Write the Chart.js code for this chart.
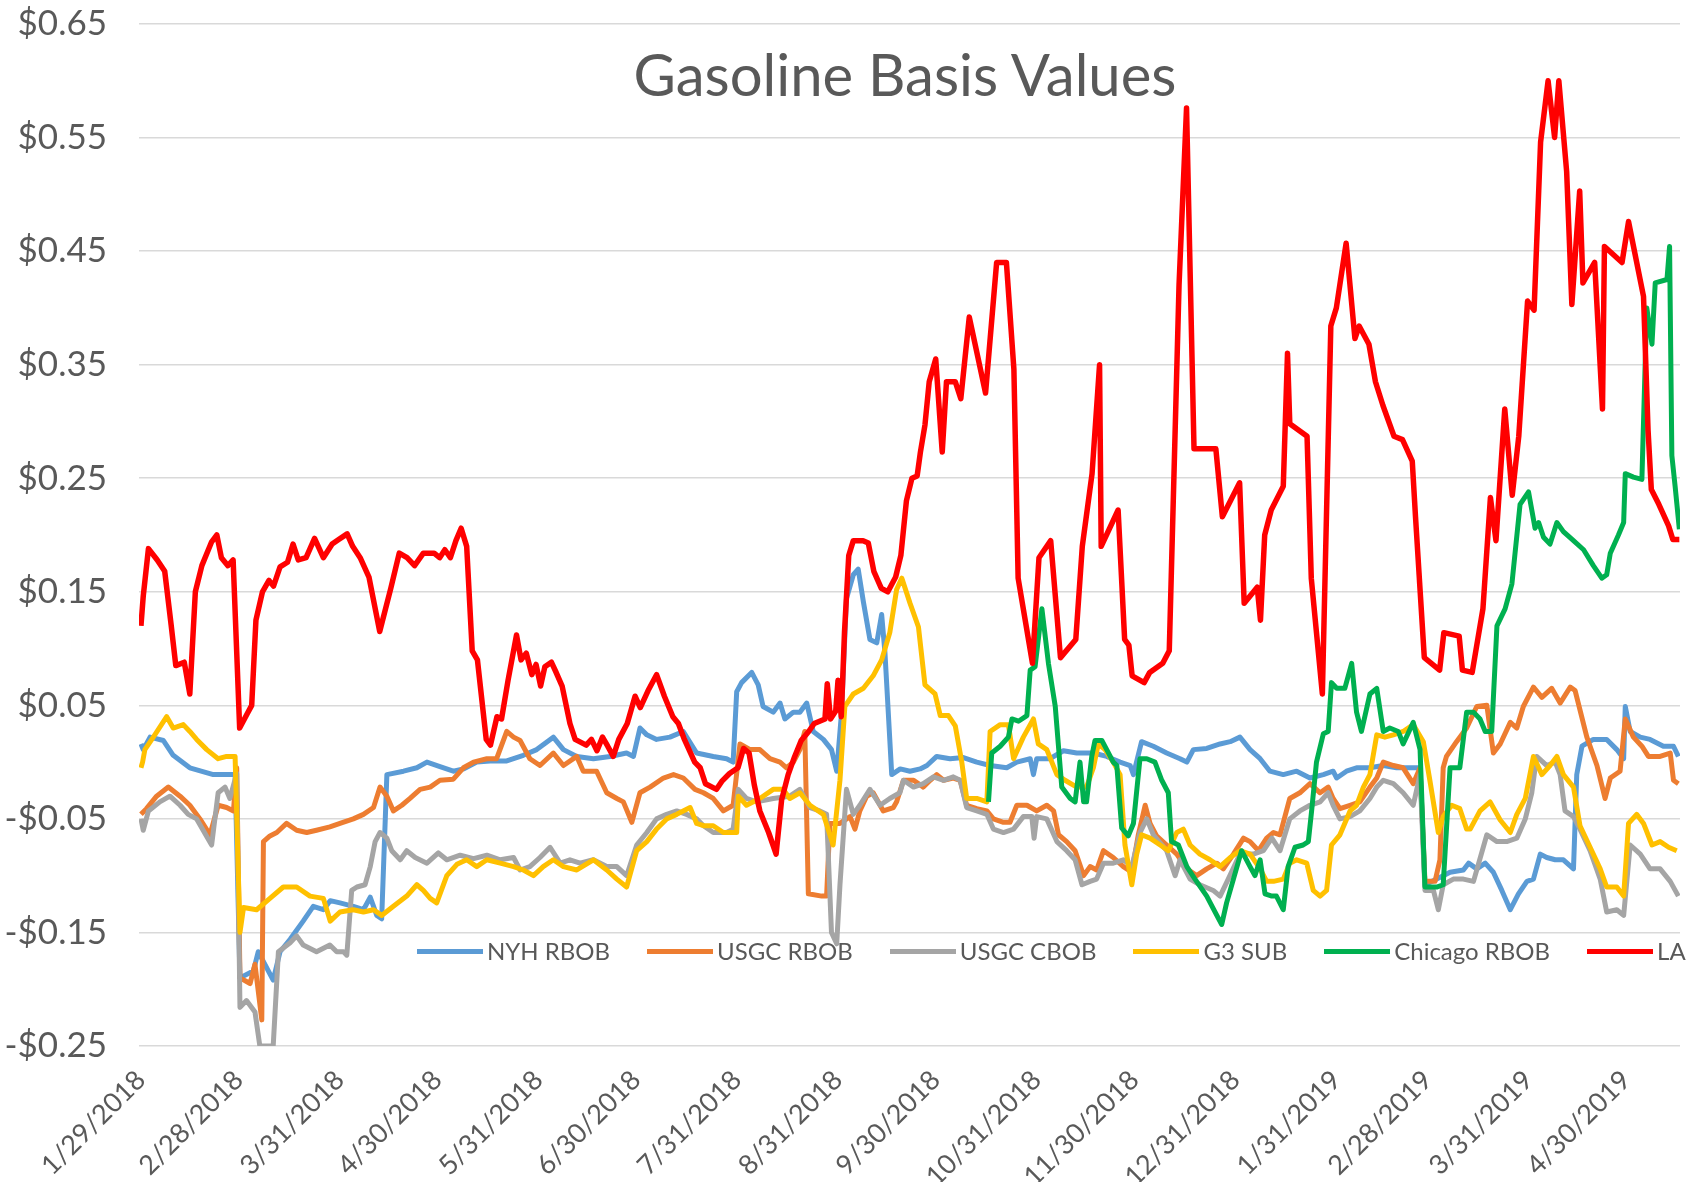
<!DOCTYPE html>
<html lang="en">
<head>
<meta charset="UTF-8" />
<title>Gasoline Basis Values</title>
<script src="https://cdn.jsdelivr.net/npm/chart.js"></script>
<style>
  body {
    margin: 0;
    background: #fff;
    font-family: Lato, "Open Sans", sans-serif;
  }
  #wrap {
    position: relative;
    width: 1703px;
    height: 1182px;
  }
  #title {
    position: absolute;
    left: 405px;
    width: 1000px;
    top: 45px;
    text-align: center;
    font-size: 58px;
    line-height: 58px;
    color: #595959;
  }
  #legend {
    position: absolute;
    left: 417px;
    top: 936px;
    display: flex;
    align-items: center;
    gap: 37px;
    font-size: 24px;
    line-height: 30px;
    color: #595959;
  }
  #legend .item {
    display: flex;
    align-items: center;
  }
  #legend .sw {
    display: inline-block;
    width: 66px;
    height: 5px;
    margin-right: 4px;
  }
</style>
</head>
<body>

<div id="wrap">
  <canvas id="chart"></canvas>
  <div id="title">Gasoline Basis Values</div>
  <div id="legend"></div>
</div>

<script>
  // x values are days since 1/29/2018, y values are $/gal
  const startDate = '1/29/2018';
  const tickDates = ['1/29/2018', '2/28/2018', '3/31/2018', '4/30/2018', '5/31/2018', '6/30/2018',
    '7/31/2018', '8/31/2018', '9/30/2018', '10/31/2018', '11/30/2018', '12/31/2018',
    '1/31/2019', '2/28/2019', '3/31/2019', '4/30/2019'];

  const seriesNames = ['NYH RBOB', 'USGC RBOB', 'USGC CBOB', 'G3 SUB', 'Chicago RBOB', 'LA'];
  const seriesColors = ['#5B9BD5', '#ED7D31', '#A5A5A5', '#FFC000', '#00B050', '#FF0000'];

  const nyhRbob = [[0,0.016],[0.7,0.011],[2.8,0.022],[6.9,0.019],[9.9,0.006],[15,-0.005],[22.2,-0.011],[28.9,-0.011],
    [30.4,-0.19],[34.5,-0.184],[36,-0.167],[40.6,-0.192],[42.7,-0.167],[45.8,-0.156],[49.8,-0.14],[52.9,-0.127],[56,-0.13],
    [58.1,-0.122],[61.1,-0.124],[65.2,-0.127],[68.3,-0.13],[70.4,-0.119],[72.4,-0.135],[73.9,-0.138],[75.5,-0.011],
    [80.6,-0.008],[84.7,-0.005],[87.8,0],[91.8,-0.004],[95.9,-0.008],[99,-0.006],[103.1,0],[107.2,0.001],[112.3,0.001],
    [117.4,0.006],[121.5,0.011],[126.6,0.022],[129.7,0.011],[133.8,0.005],[138.9,0.003],[144,0.005],[149.1,0.008],
    [151.2,0.005],[153.2,0.03],[155.3,0.024],[158.3,0.02],[162.4,0.022],[166.5,0.027],[170.6,0.008],[175.7,0.005],
    [179.8,0.003],[181.8,0],[182.9,0.062],[184.4,0.07],[187.5,0.079],[189.5,0.068],[191,0.049],[194.1,0.044],[196.2,0.052],
    [197.7,0.038],[200.3,0.044],[202.3,0.044],[204.4,0.052],[206.4,0.027],[209.5,0.02],[212,0.011],[213.6,-0.008],
    [215.1,0.044],[216.6,0.144],[218.7,0.165],[220.2,0.17],[221.8,0.141],[223.8,0.108],[225.9,0.105],[227.4,0.13],
    [228.4,0.097],[230.5,-0.011],[233.1,-0.006],[236.1,-0.008],[239.2,-0.006],[241.3,-0.003],[244.3,0.005],[248.4,0.003],
    [252.5,0.004],[256.6,0],[260.7,-0.003],[265.8,-0.005],[268.9,0],[273,0.003],[274,-0.011],[275,0.003],[279.1,0.003],
    [283.2,0.01],[287.3,0.008],[292.4,0.008],[296.5,0.005],[300.6,0],[303.7,-0.003],[304.7,-0.011],[307.2,0.018],
    [310.8,0.014],[314.9,0.008],[319,0.003],[321.1,0],[323.1,0.011],[327.2,0.012],[331.3,0.016],[334.4,0.018],[337.4,0.022],
    [340.5,0.011],[343.6,0.003],[346.6,-0.008],[350.7,-0.011],[354.8,-0.008],[358.9,-0.014],[363,-0.011],[366,-0.008],
    [367.1,-0.014],[370.1,-0.008],[373.2,-0.005],[377.3,-0.005],[381.4,-0.003],[385.5,-0.005],[389.6,-0.005],[392.7,-0.005],
    [394.2,-0.108],[397.8,-0.103],[401.9,-0.097],[406,-0.095],[407.6,-0.089],[410.1,-0.094],[412.7,-0.089],[415.2,-0.097],
    [417.8,-0.113],[420.4,-0.13],[422.9,-0.116],[425.5,-0.105],[427.5,-0.103],[429.6,-0.081],[431.6,-0.084],[434.2,-0.086],
    [436.7,-0.086],[439.8,-0.094],[440.8,-0.011],[442.4,0.014],[445.9,0.02],[450,0.02],[453.1,0.011],[455.2,0.003],
    [455.7,0.049],[457.2,0.027],[460.3,0.022],[463.3,0.02],[467.4,0.014],[470.5,0.014],[472,0.005]];

  const usgcRbob = [[0,-0.046],[1.7,-0.041],[4.8,-0.03],[8.4,-0.022],[12,-0.03],[15,-0.038],[18.1,-0.05],[21.2,-0.064],
    [23.7,-0.038],[26.3,-0.04],[28.4,-0.043],[29.4,-0.005],[30.4,-0.19],[33.5,-0.195],[35,-0.178],[37.1,-0.227],[37.6,-0.07],
    [39.6,-0.065],[41.7,-0.062],[44.7,-0.054],[47.8,-0.06],[50.9,-0.062],[53.9,-0.06],[58,-0.057],[61.1,-0.054],[65.2,-0.05],
    [68.3,-0.046],[71.4,-0.04],[73.4,-0.022],[75.5,-0.03],[77.5,-0.043],[80.1,-0.038],[82.6,-0.032],[85.7,-0.024],
    [88.8,-0.022],[91.8,-0.016],[95.9,-0.015],[99,-0.005],[102.1,0],[106.2,0.003],[109.2,0.003],[112.3,0.027],[114.4,0.022],
    [116.4,0.019],[119.4,0.003],[122.5,-0.003],[126.6,0.008],[129.7,-0.003],[133.8,0.005],[135.8,-0.008],[139.9,-0.008],
    [143,-0.027],[146.1,-0.032],[148.1,-0.035],[150.7,-0.053],[153.2,-0.027],[156.3,-0.022],[160.4,-0.014],[163.5,-0.011],
    [166.5,-0.014],[170.1,-0.024],[172.7,-0.027],[175.7,-0.032],[178.8,-0.043],[181.8,-0.038],[183.9,0.016],[187,0.011],
    [190,0.011],[193.1,0.003],[196.2,0],[198.2,-0.005],[200.3,0],[202.3,0.011],[203.8,0.027],[204.9,-0.116],[209,-0.118],
    [210.5,-0.118],[211.5,-0.054],[214.6,-0.054],[217.7,-0.048],[219.2,-0.059],[220.7,-0.043],[222.8,-0.03],[224.8,-0.027],
    [227.9,-0.043],[231,-0.04],[232,-0.035],[234.1,-0.016],[237.2,-0.016],[240.2,-0.022],[242.3,-0.016],[244.3,-0.011],
    [246.4,-0.016],[249.4,-0.014],[251.5,-0.016],[253.5,-0.038],[256.6,-0.041],[259.7,-0.043],[261.7,-0.05],[264.8,-0.053],
    [266.8,-0.053],[268.9,-0.038],[272,-0.038],[275,-0.043],[278.1,-0.038],[280.2,-0.043],[281.7,-0.064],[284.2,-0.07],
    [286.8,-0.078],[289.4,-0.1],[291.4,-0.092],[293.4,-0.095],[295.5,-0.078],[298.5,-0.084],[301.6,-0.092],[304.2,-0.097],
    [306.2,-0.064],[308.3,-0.038],[309.8,-0.054],[311.8,-0.065],[314.9,-0.073],[318,-0.081],[321.1,-0.094],[324.1,-0.1],
    [327.2,-0.094],[330.3,-0.089],[332.3,-0.094],[335.4,-0.081],[338.5,-0.067],[340.5,-0.07],[343.1,-0.078],[345.6,-0.067],
    [347.7,-0.062],[349.7,-0.064],[352.7,-0.032],[355.8,-0.027],[358.9,-0.019],[362,-0.027],[364.5,-0.022],[366,-0.032],
    [368.1,-0.041],[371.2,-0.038],[374.2,-0.035],[377.3,-0.022],[379.4,-0.014],[381.4,0],[384.5,-0.003],[387.5,-0.005],
    [390.6,-0.019],[392.7,-0.005],[394.2,-0.105],[397.3,-0.105],[398.8,-0.086],[399.8,-0.005],[400.8,0.005],[403.9,0.018],
    [407,0.03],[410.1,0.049],[413.2,0.05],[415.2,0.008],[417.3,0.016],[420.4,0.035],[422.4,0.03],[424.4,0.049],[427.5,0.066],
    [430.1,0.057],[433.1,0.065],[435.7,0.052],[438.8,0.066],[440.3,0.063],[443.9,0.022],[447,-0.003],[449.5,-0.032],
    [451.1,-0.014],[454.1,-0.008],[455.7,0.038],[458.2,0.022],[460.8,0.014],[462.8,0.005],[466.4,0.005],[469.5,0.008],
    [470.5,-0.016],[472,-0.019]];

  const usgcCbob = [[0,-0.05],[0.7,-0.06],[2.3,-0.043],[5.8,-0.035],[8.9,-0.03],[12,-0.038],[14.5,-0.046],[17.1,-0.05],
    [21.7,-0.073],[23.7,-0.027],[25.8,-0.022],[27.3,-0.032],[29.4,-0.01],[30.4,-0.216],[32.4,-0.21],[35,-0.22],[36.5,-0.25],
    [40.6,-0.25],[42.2,-0.167],[45.8,-0.159],[47.8,-0.153],[49.8,-0.161],[53.9,-0.167],[58,-0.161],[60.1,-0.167],
    [62.2,-0.167],[63.2,-0.17],[64.7,-0.113],[66.3,-0.11],[68.8,-0.108],[70.4,-0.092],[71.9,-0.07],[73.4,-0.062],
    [75.5,-0.067],[77,-0.078],[79.6,-0.086],[81.6,-0.078],[84.2,-0.084],[87.8,-0.089],[91.3,-0.08],[93.9,-0.086],[98,-0.082],
    [102.1,-0.085],[106.2,-0.082],[110.3,-0.086],[114.4,-0.084],[116.4,-0.095],[119.4,-0.092],[122.5,-0.084],[125.6,-0.075],
    [128.7,-0.089],[131.7,-0.086],[134.8,-0.089],[138.9,-0.086],[143,-0.092],[146.1,-0.092],[149.1,-0.1],[152.2,-0.073],
    [155.3,-0.062],[158.3,-0.05],[161.4,-0.046],[164.5,-0.043],[167.5,-0.046],[170.6,-0.05],[172.7,-0.056],[175.7,-0.062],
    [179.8,-0.062],[181.8,-0.059],[183.4,-0.024],[185.9,-0.032],[189,-0.035],[194.1,-0.032],[199.2,-0.03],[202.3,-0.024],
    [205.4,-0.04],[208.4,-0.043],[210.5,-0.046],[212,-0.15],[213.6,-0.16],[214.6,-0.108],[216.6,-0.024],[218.7,-0.046],
    [220.7,-0.038],[223.8,-0.024],[226.9,-0.038],[229.9,-0.032],[233,-0.027],[234.1,-0.016],[237.2,-0.022],[240.2,-0.019],
    [243.3,-0.013],[246.4,-0.016],[249.4,-0.013],[251.5,-0.016],[253.5,-0.04],[256.6,-0.043],[259.7,-0.046],[261.7,-0.059],
    [264.8,-0.062],[267.9,-0.059],[270.9,-0.048],[273.5,-0.048],[274.2,-0.067],[275,-0.048],[278.1,-0.05],[281.2,-0.07],
    [284.2,-0.078],[286.8,-0.086],[288.9,-0.108],[291.4,-0.105],[293.4,-0.103],[295.5,-0.089],[298.5,-0.089],[301.6,-0.086],
    [304.2,-0.092],[306.7,-0.062],[308.8,-0.05],[310.8,-0.064],[314.9,-0.078],[317.5,-0.1],[319,-0.086],[322.1,-0.103],
    [325.1,-0.108],[329.2,-0.113],[331.3,-0.118],[333.8,-0.103],[337.4,-0.081],[341.5,-0.081],[344.6,-0.078],[347.2,-0.067],
    [349.7,-0.078],[352.7,-0.05],[355.8,-0.043],[358.9,-0.038],[362,-0.035],[364.5,-0.027],[366,-0.038],[368.1,-0.05],
    [371.2,-0.048],[374.2,-0.043],[377.3,-0.032],[379.4,-0.022],[381.4,-0.016],[384.5,-0.019],[387.5,-0.027],[390.6,-0.038],
    [392.7,-0.011],[394.2,-0.113],[396.8,-0.113],[398.3,-0.13],[399.8,-0.108],[402.9,-0.103],[406,-0.103],[409.1,-0.105],
    [413.2,-0.064],[416.3,-0.07],[419.3,-0.07],[422.4,-0.067],[425,-0.05],[427,-0.027],[428.5,0.005],[431.6,-0.003],
    [434.2,0],[435.7,-0.011],[437.2,-0.043],[439.8,-0.048],[441.8,-0.059],[444.9,-0.078],[448,-0.103],[450,-0.132],
    [453.1,-0.13],[455.2,-0.135],[457.2,-0.073],[460.3,-0.081],[463.3,-0.094],[466.4,-0.094],[469.5,-0.105],[472,-0.118]];

  const g3Sub = [[0,-0.005],[0.5,0],[1.2,0.011],[3.8,0.022],[7.9,0.04],[9.9,0.03],[13,0.033],[15,0.027],[17.1,0.02],
    [20.2,0.011],[23.7,0.003],[26.3,0.005],[28.9,0.005],[30.4,-0.15],[31.5,-0.128],[35.5,-0.13],[39.6,-0.12],[43.7,-0.11],
    [47.8,-0.11],[51.9,-0.118],[56,-0.12],[58.1,-0.14],[61.1,-0.132],[65.2,-0.13],[68.3,-0.132],[71.4,-0.13],[73.9,-0.135],
    [77.5,-0.127],[81.6,-0.118],[84.7,-0.108],[86.7,-0.113],[88.8,-0.12],[90.8,-0.124],[93.9,-0.1],[97,-0.09],[100,-0.086],
    [103.1,-0.092],[106.2,-0.086],[110.3,-0.089],[114.4,-0.092],[117.4,-0.095],[120.5,-0.1],[123.5,-0.092],[126.6,-0.086],
    [129.7,-0.092],[133.8,-0.095],[138.9,-0.086],[143,-0.095],[146.1,-0.103],[149.1,-0.11],[152.2,-0.078],[155.3,-0.07],
    [158.3,-0.059],[161.4,-0.05],[164.5,-0.046],[168.6,-0.04],[170.6,-0.054],[172.7,-0.056],[175.7,-0.056],[178.8,-0.062],
    [182.9,-0.062],[183.4,-0.03],[185.9,-0.038],[190,-0.032],[194.1,-0.024],[197.2,-0.024],[199.2,-0.032],[202.3,-0.027],
    [205.4,-0.038],[209.5,-0.046],[212.5,-0.073],[214.6,-0.016],[216.1,0.049],[218.7,0.06],[221.8,0.065],[224.8,0.076],
    [227.4,0.09],[229.9,0.114],[232,0.152],[233.6,0.162],[236.1,0.14],[238.7,0.119],[240.7,0.068],[243.8,0.06],[245.4,0.041],
    [247.9,0.041],[250,0.032],[252,0],[253.5,-0.032],[256.6,-0.032],[259.7,-0.035],[260.7,0.027],[263.8,0.033],[266.3,0.033],
    [267.9,0.003],[270.9,0.022],[274,0.038],[275.5,0.016],[278.1,0.011],[281.2,-0.011],[283.7,-0.016],[287.3,-0.022],
    [290.3,-0.022],[292.4,-0.005],[293.9,0.016],[296,0.011],[298.5,0],[300.6,-0.011],[302.1,-0.073],[304.2,-0.108],
    [305.7,-0.081],[307.2,-0.064],[309.8,-0.067],[312.9,-0.073],[315.4,-0.078],[318,-0.062],[320,-0.059],[322.1,-0.073],
    [325.1,-0.081],[328.2,-0.086],[331.3,-0.092],[334.4,-0.084],[337.4,-0.078],[340.5,-0.081],[343.6,-0.094],[345.6,-0.105],
    [347.7,-0.105],[350.7,-0.103],[352.7,-0.089],[354.8,-0.086],[357.9,-0.089],[359.9,-0.113],[362,-0.118],[364,-0.113],
    [365.5,-0.073],[368.1,-0.064],[371.2,-0.043],[373.2,-0.038],[375.3,-0.022],[377.3,-0.011],[379.4,0.024],[381.9,0.022],
    [384.5,0.024],[387.5,0.027],[390.6,0.033],[393.7,0.018],[395.7,-0.016],[398.3,-0.062],[399.8,-0.048],[402.4,-0.038],
    [404.9,-0.041],[407,-0.059],[408.1,-0.059],[411.1,-0.043],[414.2,-0.035],[417.3,-0.051],[420.4,-0.062],[422.4,-0.046],
    [425,-0.032],[427.5,0.005],[430.1,-0.011],[432.6,-0.003],[434.7,0.005],[436.7,-0.011],[439.8,-0.022],[441.8,-0.056],
    [444.9,-0.075],[448,-0.094],[450,-0.11],[453.1,-0.11],[455.2,-0.118],[456.7,-0.054],[459.2,-0.046],[461.3,-0.054],
    [463.9,-0.073],[466.4,-0.07],[469,-0.075],[471.5,-0.078]];

  const chicagoRbob = [[260.2,-0.035],[261.2,0.008],[263.8,0.014],[266.3,0.022],[267.4,0.038],[269.4,0.036],[272,0.041],
    [273,0.081],[274.5,0.084],[276.6,0.135],[278.6,0.087],[280.7,0.049],[282.7,-0.022],[285.3,-0.032],[286.8,-0.035],
    [288.3,0],[289.4,-0.035],[290.3,-0.035],[291.9,0.005],[292.9,0.019],[295,0.019],[296.5,0.011],[298.5,0],[299.6,-0.003],
    [301.1,-0.058],[303.1,-0.065],[304.7,-0.054],[306.7,0.003],[308.8,0.003],[311.3,0],[313.4,-0.016],[315.4,-0.027],
    [316.4,-0.07],[318.5,-0.073],[321.1,-0.092],[323.6,-0.103],[327.2,-0.118],[330.3,-0.135],[331.8,-0.143],[333.3,-0.124],
    [335.4,-0.103],[337.9,-0.078],[340.5,-0.092],[342,-0.1],[343.6,-0.086],[345.1,-0.116],[347.2,-0.118],[348.6,-0.118],
    [350.7,-0.13],[352.2,-0.092],[354.3,-0.075],[356.8,-0.073],[358.4,-0.07],[359.4,-0.043],[360.9,0],[363,0.025],
    [364.5,0.027],[365.5,0.07],[367.1,0.065],[369.6,0.065],[371.7,0.087],[373.2,0.044],[374.7,0.027],[377.3,0.06],
    [379.4,0.065],[381.4,0.027],[383.4,0.03],[386,0.027],[387.5,0.016],[390.6,0.035],[392.7,0.011],[394.2,-0.11],
    [397.8,-0.11],[399.8,-0.108],[401.9,-0.005],[404.9,-0.005],[407,0.044],[409.1,0.044],[411.1,0.038],[412.7,0.027],
    [414.7,0.027],[416.3,0.12],[418.8,0.135],[420.9,0.157],[423.4,0.227],[426,0.238],[428,0.206],[429.1,0.211],
    [430.6,0.198],[432.6,0.192],[434.7,0.211],[436.7,0.203],[439.8,0.195],[442.9,0.187],[445.9,0.173],[448.5,0.162],
    [450,0.165],[451.1,0.184],[453.6,0.2],[455.2,0.211],[455.7,0.254],[458.2,0.251],[460.8,0.249],[462.3,0.4],[463.9,0.368],
    [464.9,0.422],[468.5,0.425],[469.3,0.454],[470,0.27],[471,0.243],[472.3,0.205]];

  const la = [[0,0.12],[0.7,0.146],[2.3,0.188],[5,0.178],[7.3,0.168],[9.3,0.12],[10.7,0.085],[13.3,0.088],[15,0.06],
    [16.7,0.15],[18.7,0.173],[21.7,0.194],[23.3,0.2],[24.7,0.18],[26.7,0.173],[28.3,0.178],[30.3,0.03],[32.7,0.043],
    [34,0.05],[35.3,0.125],[37.3,0.15],[39.3,0.16],[40.7,0.155],[42.7,0.172],[45,0.176],[46.7,0.192],[48.3,0.178],
    [50.7,0.18],[53.3,0.197],[56,0.18],[58.7,0.192],[60.7,0.196],[63.3,0.201],[65,0.19],[67.3,0.18],[70,0.163],[73.3,0.115],
    [76.7,0.153],[79.3,0.184],[81.7,0.18],[84,0.173],[86.7,0.184],[90,0.184],[91.7,0.18],[93.3,0.187],[95,0.18],
    [96.7,0.195],[98.3,0.206],[100,0.19],[101.7,0.098],[103.3,0.09],[106,0.02],[107.3,0.015],[109.3,0.04],[110.7,0.038],
    [112.7,0.072],[115.3,0.112],[116.7,0.09],[118.3,0.096],[120,0.077],[121.3,0.086],[122.7,0.067],[124,0.084],[126,0.088],
    [127.3,0.08],[129.3,0.067],[131.7,0.034],[133.3,0.02],[136.7,0.015],[138.3,0.02],[140,0.01],[141.7,0.022],[143.3,0.014],
    [145,0.005],[146.7,0.02],[149.3,0.034],[151.7,0.058],[153.3,0.048],[155.7,0.063],[158.3,0.077],[160.7,0.058],
    [163.3,0.04],[165,0.034],[166.7,0.021],[170,0],[171.7,-0.005],[173.3,-0.019],[176.7,-0.024],[178.3,-0.017],
    [180.7,-0.01],[183.3,-0.005],[185,0.012],[186.7,0.008],[188.3,-0.02],[190,-0.043],[192.7,-0.062],[195,-0.081],
    [196.7,-0.033],[198.7,-0.011],[200.7,0.005],[202.7,0.019],[205,0.027],[206.7,0.034],[210,0.038],[210.7,0.069],
    [211.7,0.038],[213.3,0.045],[214,0.072],[215,0.04],[216,0.115],[217.3,0.182],[218.7,0.195],[221.7,0.195],[223.3,0.193],
    [225,0.168],[227.3,0.153],[229.3,0.15],[231.7,0.163],[233.3,0.182],[235,0.23],[236.7,0.25],[238.3,0.252],[239.3,0.273],
    [240.7,0.297],[242,0.335],[244,0.355],[246,0.273],[247.3,0.335],[250,0.335],[251.7,0.32],[254.3,0.392],[259.3,0.325],
    [262.7,0.44],[265.7,0.44],[268,0.346],[269.3,0.162],[273.7,0.087],[275.7,0.18],[279.3,0.195],[282.3,0.092],[287,0.108],
    [289,0.19],[292,0.254],[294.3,0.35],[294.8,0.19],[300,0.222],[302,0.108],[303.3,0.103],[304.3,0.076],[308,0.07],
    [309.7,0.079],[313.7,0.087],[315.7,0.098],[318.7,0.42],[321,0.576],[323.3,0.276],[330,0.276],[332,0.216],[337.3,0.246],
    [338.7,0.14],[342.7,0.154],[343.7,0.125],[345,0.2],[347,0.222],[349.3,0.235],[350.7,0.243],[352,0.36],[352.7,0.298],
    [358,0.287],[359.3,0.162],[362.7,0.06],[365.3,0.384],[367,0.4],[370,0.457],[372.7,0.373],[374,0.384],[377,0.368],
    [379,0.335],[381.3,0.314],[384.7,0.287],[387.3,0.284],[390.3,0.265],[391.3,0.216],[394,0.092],[398.7,0.081],[400,0.114],
    [404.7,0.111],[405.7,0.081],[408.7,0.079],[412,0.135],[414.3,0.233],[416,0.195],[418.7,0.311],[421,0.235],[423,0.287],
    [425.7,0.406],[427.7,0.398],[429.7,0.546],[432,0.6],[434,0.55],[435.3,0.6],[437.7,0.52],[439.3,0.403],[441.7,0.503],
    [442.7,0.422],[446.3,0.44],[448.7,0.311],[449.3,0.454],[454.7,0.44],[456.7,0.476],[461.3,0.41],[462.7,0.292],
    [463.7,0.24],[466,0.227],[469,0.208],[470.3,0.196],[472.3,0.196]];

  const allSeries = [nyhRbob, usgcRbob, usgcCbob, g3Sub, chicagoRbob, la];

  function dayOf(str) {
    const [m, d, y] = str.split('/').map(Number);
    const [m0, d0, y0] = startDate.split('/').map(Number);
    return Math.round((Date.UTC(y, m - 1, d) - Date.UTC(y0, m0 - 1, d0)) / 86400000);
  }
  const tickDays = tickDates.map(dayOf);

  function money(v) {
    const r = Math.round(v * 100) / 100;
    return (r < 0 ? '-' : '') + '$' + Math.abs(r).toFixed(2);
  }

  const datasets = allSeries.map((pts, i) => ({
    label: seriesNames[i],
    data: pts.map(p => ({ x: p[0], y: p[1] })),
    borderColor: seriesColors[i],
    backgroundColor: seriesColors[i],
    borderWidth: i === 5 ? 5.5 : 5,
    pointRadius: 0,
    tension: 0,
    fill: false,
    borderJoinStyle: 'round',
    order: 5 - i
  }));

  new Chart(document.getElementById('chart'), {
    type: 'line',
    data: { datasets: datasets },
    options: {
      responsive: true,
      maintainAspectRatio: false,
      animation: false,
      events: [],
      layout: { padding: { left: 0, right: 23, top: 0, bottom: 0 } },
      plugins: {
        legend: { display: false },
        title: { display: false },
        tooltip: { enabled: false }
      },
      scales: {
        x: {
          type: 'linear',
          min: -0.6,
          max: 472.5,
          grid: { display: false },
          border: { display: false },
          afterBuildTicks: axis => {
            axis.ticks = tickDays.map(v => ({ value: v }));
          },
          afterFit: scale => { scale.height = 136; },
          ticks: {
            autoSkip: false,
            minRotation: 45,
            maxRotation: 45,
            padding: 10,
            color: '#595959',
            font: { family: 'Lato', size: 27 },
            callback: (value, index) => tickDates[index]
          }
        },
        y: {
          min: -0.25,
          max: 0.65,
          grid: { color: '#d9d9d9', lineWidth: 1.5, drawTicks: false },
          border: { display: false },
          afterFit: scale => {
            scale.width = 139;
            scale.paddingTop = 24;
            scale.paddingBottom = 0;
          },
          ticks: {
            stepSize: 0.1,
            padding: 32,
            color: '#595959',
            font: { family: 'Lato', size: 35 },
            callback: v => money(v)
          }
        }
      }
    }
  });

  const legend = document.getElementById('legend');
  seriesNames.forEach((name, i) => {
    const item = document.createElement('div');
    item.className = 'item';
    const sw = document.createElement('span');
    sw.className = 'sw';
    sw.style.background = seriesColors[i];
    const txt = document.createElement('span');
    txt.textContent = name;
    item.appendChild(sw);
    item.appendChild(txt);
    legend.appendChild(item);
  });
</script>

</body>
</html>
